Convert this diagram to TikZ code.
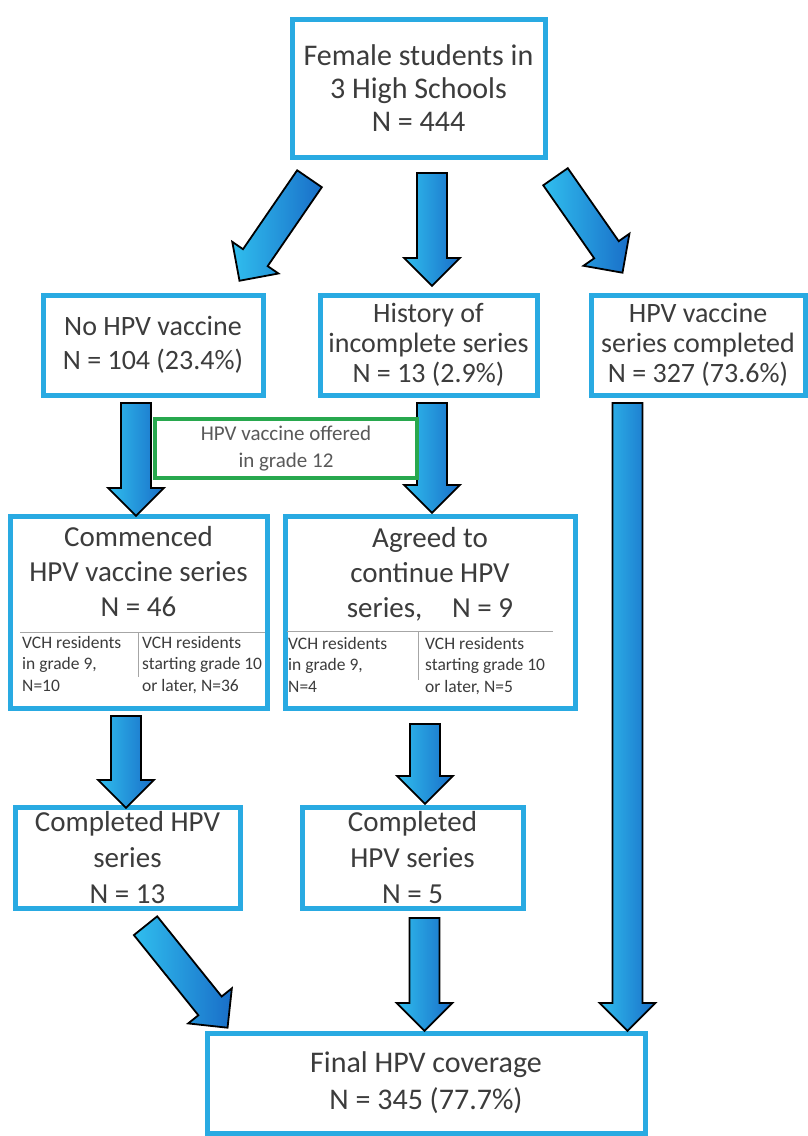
\documentclass[tikz,border=0pt]{standalone}
\usepackage{fontspec}
\setmainfont{Carlito}
\usetikzlibrary{shapes.arrows,calc,positioning}
\definecolor{boxblue}{RGB}{41,170,226}
\definecolor{offergreen}{RGB}{40,168,78}
\definecolor{arrowlight}{RGB}{48,190,238}
\definecolor{arrowdark}{RGB}{25,110,200}
\definecolor{txtgray}{RGB}{60,60,60}
\tikzstyle{box}=[rectangle,
	line width=5pt,
	draw=boxblue,
	fill=white,
	text=txtgray,
	align=center,
	inner sep=0pt]
\tikzstyle{offer}=[rectangle,
	line width=4pt,
	draw=offergreen,
	fill=white,
	text=txtgray!85,
	align=center,
	font=\fontsize{21}{27}\selectfont]
\tikzstyle{fat}=[single arrow,
	draw=black,
	line width=1.8pt,
	left color=arrowlight,
	right color=arrowdark,
	minimum width=56pt,
	single arrow head extend=13pt,
	inner xsep=0pt,
	inner ysep=14pt,
	anchor=tail]
\tikzstyle{small}=[align=left,
	inner sep=0pt,
	anchor=north west,
	text=txtgray,
	font=\fontsize{17.5}{21.5}\selectfont]
\tikzstyle{sep}=[draw=gray!70, line width=1pt]
\newcommand{\fatarrow}[3]{%
	\path let \p1=($(#3)-(#2)$), \n1={veclen(\x1,\y1)}, \n2={atan2(\y1,\x1)} in
		node (#1) [fat, minimum height=\n1, rotate=\n2] at (#2) {};}
\begin{document}
\begin{tikzpicture}[x=1pt,y=-1pt]
	\useasboundingbox[fill=white] (0,0) rectangle (807,1136);
	\node (school) [box, minimum width=253pt, minimum height=138pt, font=\fontsize{30}{33}\selectfont] at (418.5,88) {Female students in\\3 High Schools\\N = 444};

	\node (nohpv) [box, minimum width=220pt, minimum height=100pt, font=\fontsize{28}{34}\selectfont] at (153,345) {No HPV vaccine\\N = 104 (23.4\%)};
	\node (history) [box, minimum width=217pt, minimum height=100pt, font=\fontsize{28}{30}\selectfont] at (428.5,345) {History of\\incomplete series\\N = 13 (2.9\%)};
	\node (done) [box, minimum width=214pt, minimum height=100pt, font=\fontsize{28}{30}\selectfont] at (698,345) {HPV vaccine\\series completed\\N = 327 (73.6\%)};

	% split boxes
	\node (commenced) [box, minimum width=257pt, minimum height=192pt] at (138.5,612) {};
	\node (commencedtxt) [text=txtgray, align=center, font=\fontsize{29}{35}\selectfont] at (138.5,572) {Commenced\\HPV vaccine series\\N = 46};
	\draw[sep] (20,632) -- (265,632);
	\draw[sep] (138,632) -- (138,677);
	\node (commencedl) [small] at (22,636) {VCH residents\\in grade 9,\\N=10};
	\node (commencedr) [small] at (142,636) {VCH residents\\starting grade 10\\or later, N=36};

	\node (agreed) [box, minimum width=290pt, minimum height=192pt] at (430,612) {};
	\node (agreedtxt) [text=txtgray, align=center, font=\fontsize{29}{35}\selectfont] at (430,574) {Agreed to\\continue HPV\\series,\hspace{0.8em} N = 9};
	\draw[sep] (287,631) -- (553,631);
	\draw[sep] (418,631) -- (418,680);
	\node (agreedl) [small] at (288,637) {VCH residents\\in grade 9,\\N=4};
	\node (agreedr) [small] at (425,637) {VCH residents\\starting grade 10\\or later, N=5};

	\node (done13) [box, minimum width=225pt, minimum height=101pt, font=\fontsize{29}{36}\selectfont] at (127.5,857.5) {Completed HPV\\series\\N = 13};
	\node (done5) [box, minimum width=221pt, minimum height=101pt, font=\fontsize{29}{36}\selectfont] at (412.5,857.5) {Completed\\HPV series\\N = 5};

	\node (final) [box, minimum width=438pt, minimum height=100pt, font=\fontsize{30}{37}\selectfont] at (426,1083) {Final HPV coverage\\N = 345 (77.7\%)};

	% arrow ends
	\coordinate (s1) at (310,178);   \coordinate (t1) at (240,280);
	\coordinate (s2) at (432,172);   \coordinate (t2) at (432,285);
	\coordinate (s3) at (555,176);   \coordinate (t3) at (622,272);
	\coordinate (s4) at (136,402);   \coordinate (t4) at (136,515);
	\coordinate (s5) at (432,402);   \coordinate (t5) at (432,512);
	\coordinate (s6) at (627.5,402); \coordinate (t6) at (627.5,1030);
	\coordinate (s7) at (126,715);   \coordinate (t7) at (126,807);
	\coordinate (s8) at (425,723);   \coordinate (t8) at (425,803);
	\coordinate (s9) at (145,925);   \coordinate (t9) at (227,1027);
	\coordinate (s10) at (424.5,917); \coordinate (t10) at (424.5,1030);

	\fatarrow{a1}{s1}{t1}
	\fatarrow{a2}{s2}{t2}
	\fatarrow{a3}{s3}{t3}
	\fatarrow{a4}{s4}{t4}
	\fatarrow{a5}{s5}{t5}
	\fatarrow{a6}{s6}{t6}
	\fatarrow{a7}{s7}{t7}
	\fatarrow{a8}{s8}{t8}
	\fatarrow{a9}{s9}{t9}
	\fatarrow{a10}{s10}{t10}

	\node (offer) [offer, minimum width=262pt, minimum height=59pt] at (286,448.5) {HPV vaccine offered\\in grade 12};
\end{tikzpicture}
\end{document}
